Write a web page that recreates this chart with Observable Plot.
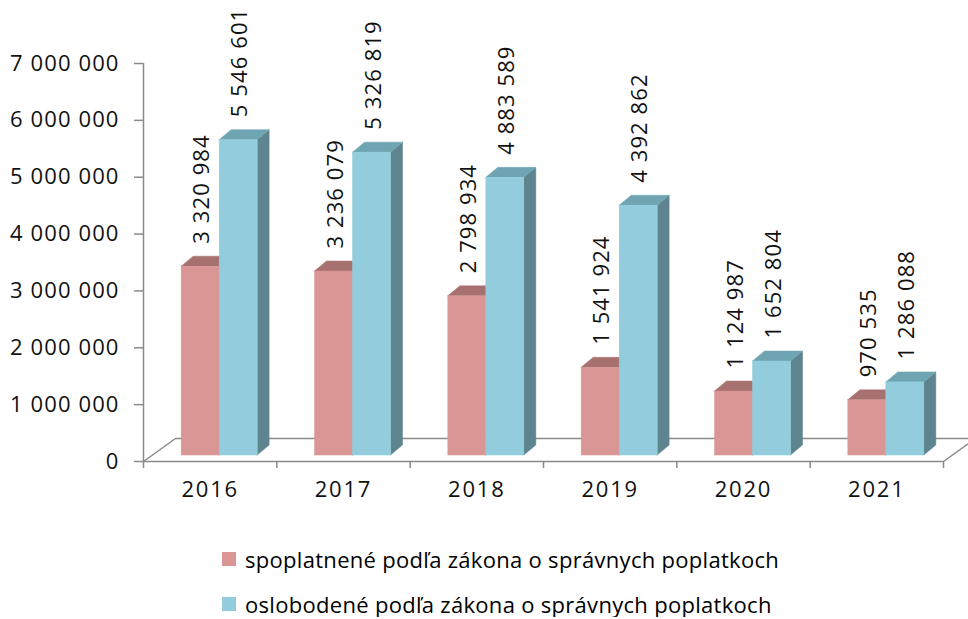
<!DOCTYPE html>
<html>
<head>
<meta charset="utf-8">
<script src="https://cdn.jsdelivr.net/npm/d3@7"></script>
<script src="https://cdn.jsdelivr.net/npm/@observablehq/plot@0.6"></script>
<style>
  body { margin: 0; background: #fff; font-family: "Open Sans", sans-serif; overflow: hidden; }
  #chart svg { display: block; }
  #chart svg text { letter-spacing: 1.1px; }
  #chart svg g.yearlabels text { letter-spacing: 1.8px; }
  .legend { margin-top: 36px; padding-left: 222px; }
  .legend .row { height: 26px; display: flex; align-items: center; font-size: 22px; letter-spacing: 0.3px; color: #000; }
  .legend .row + .row { margin-top: 19px; }
  .legend .sw { width: 14px; height: 14px; margin-right: 9px; }
</style>
</head>
<body>
<div id="chart"></div>
<div class="legend" id="legend"></div>
<script>
// ---- data ----
const years = [2016, 2017, 2018, 2019, 2020, 2021];
const spoplatnene = [3320984, 3236079, 2798934, 1541924, 1124987, 970535];
const oslobodene = [5546601, 5326819, 4883589, 4392862, 1652804, 1286088];
const seriesNames = [
  "spoplatnené podľa zákona o správnych poplatkoch",
  "oslobodené podľa zákona o správnych poplatkoch"
];
const yTicks = [0, 1000000, 2000000, 3000000, 4000000, 5000000, 6000000, 7000000];

// ---- layout / style ----
const W = 968, H = 510, ML = 143, MR = 25, MT = 63, MB = 49;
const xPerPx = (years.length) / (W - ML - MR);
const yPerPx = 7000000 / (H - MT - MB);
const FONT = "Open Sans";
const colors = [
  {front: "#D99694", top: "#A6716F", side: "#8E5F5E"},
  {front: "#93CDDD", top: "#6FA5B2", side: "#5E858F"}
];
const barOffsets = [[-28.5, 9.5], [9.5, 47.5]]; // px relative to category center
const BASE = 6 * yPerPx;         // bars stand a bit behind the front floor edge
const DX = 12 * xPerPx, DY = 10 * yPerPx;   // bar depth
const FDX = 32 * xPerPx, FDY = 23 * yPerPx; // floor depth
const fmt = v => d3.format(",")(v).replace(/,/g, " ");

const seriesValues = [spoplatnene, oslobodene];
const fronts = [], sides = [], tops = [], labels = [];
seriesValues.forEach((vals, s) => {
  vals.forEach((v, i) => {
    const yr = years[i];
    const x1 = yr + barOffsets[s][0] * xPerPx, x2 = yr + barOffsets[s][1] * xPerPx;
    const t = v + BASE;
    const id = s + "-" + i;
    fronts.push({s, x1, x2, y1: BASE, y2: t});
    sides.push({s, id, x: x2, y1: BASE, y2: t});
    sides.push({s, id, x: x2 + DX, y1: BASE + DY, y2: t + DY});
    tops.push({s, id, x: x1, y1: t, y2: t});
    tops.push({s, id, x: x1 + DX, y1: t, y2: t + DY});
    tops.push({s, id, x: x2, y1: t, y2: t + DY});
    tops.push({s, id, x: x2 + DX, y1: t + DY, y2: t + DY});
    labels.push({s, x: (x1 + x2) / 2 + 1.5 * xPerPx, y: t, text: fmt(v)});
  });
});

const x0 = years[0] - 0.5, xN = years[years.length - 1] + 0.5;
const floor = [
  {x: x0, y: 0}, {x: x0 + FDX, y: FDY}, {x: xN + FDX, y: FDY}, {x: xN, y: 0}
];
const boundaries = d3.range(years.length + 1).map(i => x0 + i);

const marks = [
  Plot.line(floor, {x: "x", y: "y", stroke: "#8A8A8A", strokeWidth: 1.5}),
  Plot.ruleY([0], {x1: x0, x2: xN, stroke: "#8A8A8A", strokeWidth: 1.5}),
  Plot.ruleX([x0], {y1: 0, y2: 7000000, stroke: "#8A8A8A", strokeWidth: 1.5}),
  Plot.axisY({ticks: yTicks, tickFormat: fmt, tickSize: 9, tickPadding: 15,
    stroke: "#8A8A8A", strokeWidth: 1.5, fill: "#111", fontSize: 22, fontFamily: FONT}),
  Plot.axisX({ticks: boundaries, tickFormat: () => "", tickSize: 7,
    stroke: "#8A8A8A", strokeWidth: 1.5}),
  Plot.axisX({ticks: years, tickFormat: d => String(d), tickSize: 0, tickPadding: 20,
    fill: "#111", fontSize: 22, fontFamily: FONT, className: "yearlabels"})
];
[0, 1].forEach(s => {
  const c = colors[s];
  marks.push(
    Plot.areaY(sides.filter(d => d.s === s), {x: "x", y1: "y1", y2: "y2", z: "id", fill: c.side, stroke: c.side, strokeWidth: 0.5}),
    Plot.areaY(tops.filter(d => d.s === s), {x: "x", y1: "y1", y2: "y2", z: "id", fill: c.top, stroke: c.top, strokeWidth: 0.5}),
    Plot.rect(fronts.filter(d => d.s === s), {x1: "x1", x2: "x2", y1: "y1", y2: "y2", fill: c.front, stroke: c.front, strokeWidth: 0.5})
  );
});
marks.push(
  Plot.text(labels, {x: "x", y: "y", text: "text", rotate: -90, textAnchor: "start",
    dy: -23, fill: "#111", fontSize: 22, fontFamily: FONT})
);

const chart = Plot.plot({
  width: W, height: H,
  marginLeft: ML, marginRight: MR, marginTop: MT, marginBottom: MB,
  x: {type: "linear", domain: [x0, xN]},
  y: {domain: [0, 7000000]},
  style: {fontFamily: FONT, fontSize: "22px", background: "#fff", overflow: "visible"},
  marks
});
document.getElementById("chart").appendChild(chart);

const legend = document.getElementById("legend");
seriesNames.forEach((name, s) => {
  const row = document.createElement("div");
  row.className = "row";
  const sw = document.createElement("span");
  sw.className = "sw";
  sw.style.background = colors[s].front;
  const tx = document.createElement("span");
  tx.textContent = name;
  row.appendChild(sw); row.appendChild(tx);
  legend.appendChild(row);
});
</script>
</body>
</html>
